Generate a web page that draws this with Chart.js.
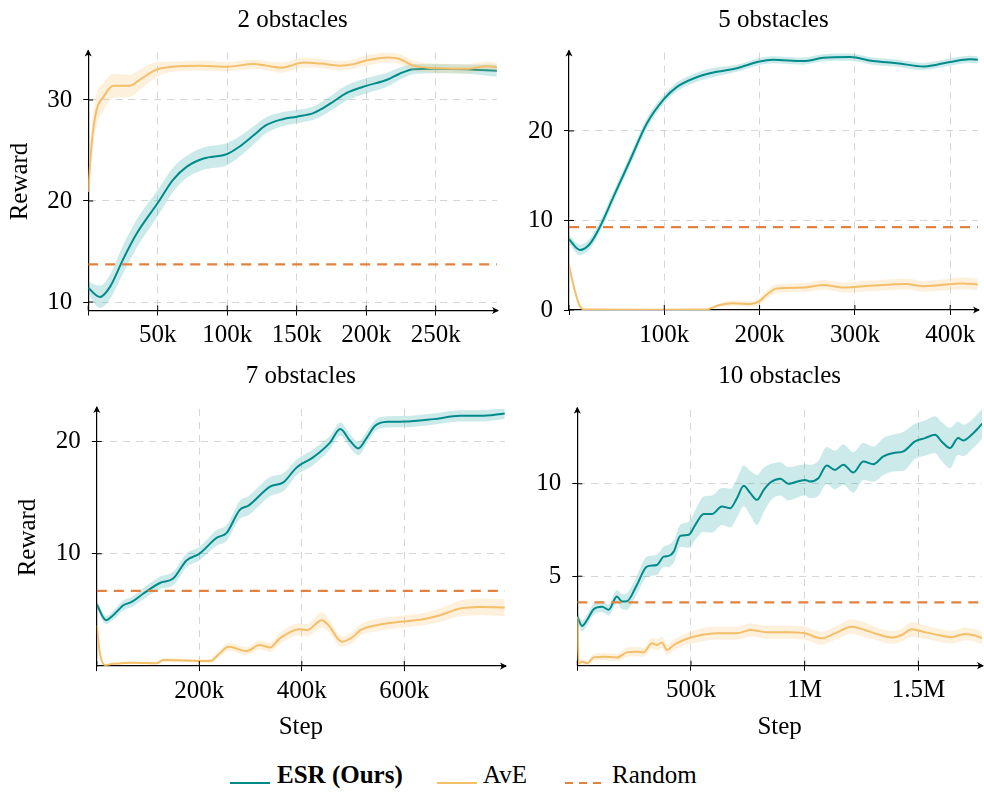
<!DOCTYPE html>
<html>
<head>
<meta charset="utf-8">
<script src="https://cdn.jsdelivr.net/npm/chart.js@4.4.0/dist/chart.umd.min.js"></script>
<style>
  body { margin: 0; background: #fff; width: 984px; height: 793px; position: relative; overflow: hidden;
         font-family: 'Liberation Serif', 'Times New Roman', serif; }
  canvas { position: absolute; }
  .lg { position: absolute; top: 760px; font-size: 25px; line-height: 30px; color: #000; white-space: nowrap; }
  .key { position: absolute; top: 778px; }
</style>
</head>
<body>
<canvas id="c1" width="505" height="360" style="left:0;top:0"></canvas>
<canvas id="c2" width="494" height="360" style="left:490px;top:0"></canvas>
<canvas id="c3" width="515" height="390" style="left:0;top:360px"></canvas>
<canvas id="c4" width="494" height="390" style="left:490px;top:360px"></canvas>

<svg class="key" style="left:230px" width="40" height="10"><line x1="0" y1="5" x2="40" y2="5" stroke="#008b8b" stroke-width="2.2"/></svg>
<span class="lg" style="left:277px;font-weight:bold">ESR (Ours)</span>
<svg class="key" style="left:437px" width="40" height="10"><line x1="0" y1="5" x2="40" y2="5" stroke="#f4bf68" stroke-width="2.2"/></svg>
<span class="lg" style="left:483px">AvE</span>
<svg class="key" style="left:565px" width="40" height="10"><line x1="0" y1="5" x2="40" y2="5" stroke="#e2823e" stroke-width="2.2" stroke-dasharray="8,6"/></svg>
<span class="lg" style="left:612px">Random</span>

<script>
const FONT = "'Liberation Serif', 'Times New Roman', serif";
const teal = '#008b8b', tealBand = 'rgba(0,150,150,0.2)';
const ave = '#f4bf68', aveBand = 'rgba(244,191,104,0.22)';
const rnd = '#e2823e';

// steps are in thousands

// 2 obstacles
const esr2Steps = [0, 8.5, 15.7, 25, 35, 50, 61, 71, 83, 100, 109, 119, 128, 140, 150, 162, 169, 176, 186, 200, 215, 224, 234, 248, 272, 294];
const esr2Mean = [11.4, 10.5, 11.5, 14.2, 16.8, 19.8, 22.1, 23.4, 24.2, 24.65, 25.4, 26.5, 27.5, 28.1, 28.35, 28.7, 29.2, 29.8, 30.7, 31.4, 32.0, 32.6, 33.05, 33.1, 33.05, 32.9];
const esr2Spread = [0.6, 1.1, 1.2, 1.4, 1.4, 1.3, 1.2, 1.1, 1.1, 1.1, 1.0, 0.9, 0.8, 0.7, 0.65, 0.65, 0.7, 0.75, 0.75, 0.75, 0.7, 0.6, 0.5, 0.45, 0.45, 0.6];
const ave2Steps = [0, 2.5, 6, 11, 18, 30, 37, 50, 61, 80, 100, 119, 128, 139, 155, 167, 181, 191, 200, 216, 224, 234, 244, 272, 287, 294];
const ave2Mean = [20.9, 25.7, 29.0, 30.3, 31.4, 31.4, 32.0, 33.05, 33.3, 33.4, 33.3, 33.55, 33.4, 33.2, 33.7, 33.6, 33.4, 33.55, 33.9, 34.2, 34.05, 33.4, 33.2, 33.1, 33.35, 33.25];
const ave2Spread = [0.3, 1.5, 1.6, 1.4, 1.2, 1.1, 1.0, 0.7, 0.5, 0.5, 0.45, 0.45, 0.45, 0.5, 0.5, 0.45, 0.45, 0.45, 0.5, 0.5, 0.5, 0.5, 0.45, 0.45, 0.45, 0.45];
const random2 = 13.73;
const xTicks2 = [0, 50, 100, 150, 200, 250];
const xLabels2 = ['', '50k', '100k', '150k', '200k', '250k'];
const yTicks2 = [10, 20, 30];
const yLabels2 = ['10', '20', '30'];

// 5 obstacles
const esr5Steps = [0, 11.5, 22, 32.5, 46.5, 64, 81.5, 100, 113, 134, 155, 176, 200, 214, 246, 267, 295, 319, 344, 372, 386, 400, 421, 429];
const esr5Mean = [7.9, 6.7, 7.4, 9.3, 12.6, 16.7, 20.8, 23.6, 24.9, 26.0, 26.6, 27.0, 27.76, 27.95, 27.8, 28.17, 28.25, 27.8, 27.57, 27.2, 27.4, 27.7, 28.0, 27.95];
const esr5Spread = [0.5, 0.6, 0.6, 0.6, 0.6, 0.6, 0.6, 0.5, 0.5, 0.5, 0.5, 0.4, 0.4, 0.4, 0.4, 0.4, 0.4, 0.4, 0.4, 0.4, 0.4, 0.4, 0.4, 0.4];
const ave5Steps = [0, 6, 11.5, 17, 80, 143, 158, 172, 190, 200, 207, 218, 246, 267, 288, 316, 354, 372, 414, 429];
const ave5Mean = [5.0, 2.2, 0.4, 0.05, 0.02, 0.05, 0.56, 0.75, 0.67, 1.0, 1.67, 2.4, 2.5, 2.8, 2.5, 2.7, 2.9, 2.65, 2.97, 2.85];
const ave5Spread = [0.05, 0.1, 0.1, 0.05, 0.02, 0.05, 0.2, 0.3, 0.3, 0.35, 0.5, 0.5, 0.5, 0.55, 0.55, 0.6, 0.6, 0.6, 0.65, 0.65];
const random5 = 9.25;
const xTicks5 = [0, 100, 200, 300, 400];
const xLabels5 = ['', '100k', '200k', '300k', '400k'];
const yTicks5 = [0, 10, 20];
const yLabels5 = ['0', '10', '20'];

// 7 obstacles
const esr7Steps = [0, 18, 32, 52, 68, 91, 123, 149, 175, 200, 234, 253, 279, 296, 338, 364, 390, 422, 455, 475, 494, 510, 527, 543, 569, 600, 657, 709, 748, 796];
const esr7Mean = [5.48, 4.09, 4.53, 5.42, 5.71, 6.46, 7.4, 7.79, 9.41, 10.0, 11.43, 11.84, 13.91, 14.29, 15.98, 16.36, 17.69, 18.58, 19.9, 21.1, 20.06, 19.38, 20.35, 21.4, 21.75, 21.77, 21.99, 22.28, 22.28, 22.5];
const esr7Spread = [0.4, 0.35, 0.4, 0.45, 0.45, 0.5, 0.55, 0.6, 0.6, 0.6, 0.7, 0.7, 0.8, 0.85, 0.85, 0.8, 0.7, 0.7, 0.6, 0.6, 0.6, 0.6, 0.55, 0.5, 0.5, 0.5, 0.5, 0.5, 0.5, 0.5];
const ave7Steps = [0, 6, 16, 32, 71, 117, 130, 175, 221, 240, 257, 292, 318, 338, 357, 396, 410, 439, 452, 478, 500, 514, 553, 592, 637, 670, 709, 748, 796];
const ave7Mean = [3.65, 1.14, 0.1, 0.2, 0.3, 0.25, 0.54, 0.49, 0.45, 1.14, 1.72, 1.34, 1.87, 1.66, 2.47, 3.27, 3.2, 4.09, 3.65, 2.17, 2.61, 3.2, 3.7, 3.94, 4.18, 4.53, 5.13, 5.27, 5.21];
const ave7Spread = [0.1, 0.1, 0.1, 0.1, 0.1, 0.1, 0.15, 0.15, 0.15, 0.3, 0.35, 0.35, 0.4, 0.4, 0.5, 0.55, 0.55, 0.7, 0.6, 0.45, 0.5, 0.5, 0.55, 0.55, 0.55, 0.6, 0.7, 0.75, 0.75];
const random7 = 6.69;
const xTicks7 = [0, 200, 400, 600];
const xLabels7 = ['', '200k', '400k', '600k'];
const yTicks7 = [10, 20];
const yLabels7 = ['10', '20'];

// 10 obstacles
const esr10Steps = [0, 21, 43, 72, 109, 138, 174, 197, 218, 262, 306, 350, 380, 402, 424, 453, 490, 519, 556, 592, 636, 673, 702, 732, 761, 790, 820, 849, 893, 928, 1001, 1023, 1060, 1097, 1133, 1170, 1214, 1258, 1302, 1346, 1390, 1434, 1485, 1529, 1573, 1602, 1639, 1675, 1697, 1734, 1763, 1780];
const esr10Mean = [2.81, 2.31, 2.63, 3.21, 3.35, 3.18, 3.9, 3.63, 3.64, 4.53, 5.52, 5.61, 6.06, 6.1, 6.33, 7.18, 7.24, 7.78, 8.36, 8.36, 8.77, 8.68, 9.22, 9.89, 9.49, 9.13, 9.67, 10.07, 10.27, 10.0, 10.21, 10.12, 10.3, 10.99, 10.75, 11.03, 10.61, 11.2, 11.06, 11.48, 11.66, 11.75, 12.29, 12.47, 12.65, 12.29, 11.93, 12.47, 12.34, 12.65, 13.01, 13.25];
const esr10Spread = [0.3, 0.3, 0.3, 0.3, 0.3, 0.3, 0.35, 0.4, 0.45, 0.5, 0.55, 0.55, 0.55, 0.6, 0.6, 0.6, 0.7, 0.8, 0.95, 1.0, 1.0, 1.05, 1.05, 1.1, 1.2, 1.35, 1.2, 1.0, 0.9, 0.9, 0.85, 0.9, 0.95, 1.0, 1.05, 1.1, 1.1, 1.0, 0.95, 1.0, 1.0, 1.05, 0.95, 0.95, 1.0, 1.05, 1.1, 0.9, 0.85, 0.8, 0.8, 0.8];
const ave10Steps = [0, 6, 21, 43, 72, 116, 174, 218, 255, 292, 328, 350, 372, 394, 424, 468, 526, 614, 702, 761, 834, 922, 1001, 1075, 1133, 1207, 1265, 1309, 1383, 1427, 1471, 1529, 1588, 1646, 1705, 1749, 1780];
const ave10Mean = [2.81, 0.29, 0.38, 0.29, 0.61, 0.65, 0.6, 0.88, 0.92, 0.88, 1.37, 1.28, 1.42, 1.01, 1.28, 1.55, 1.77, 1.91, 1.91, 2.09, 1.97, 1.97, 1.91, 1.64, 1.91, 2.27, 2.09, 1.91, 1.68, 1.82, 2.13, 1.97, 1.82, 1.70, 1.88, 1.79, 1.65];
const ave10Spread = [0.05, 0.1, 0.15, 0.15, 0.2, 0.2, 0.2, 0.25, 0.25, 0.25, 0.3, 0.3, 0.3, 0.3, 0.3, 0.3, 0.35, 0.35, 0.35, 0.35, 0.35, 0.35, 0.35, 0.35, 0.35, 0.4, 0.4, 0.35, 0.35, 0.35, 0.4, 0.35, 0.35, 0.35, 0.35, 0.35, 0.35];
const random10 = 3.59;
const xTicks10 = [0, 500, 1000, 1500];
const xLabels10 = ['', '500k', '1M', '1.5M'];
const yTicks10 = [5, 10];
const yLabels10 = ['5', '10'];

function pts(steps, vals, spread, sign) {
  return steps.map((s, i) => ({ x: s, y: vals[i] + sign * (spread ? spread[i] : 0) }));
}

function seriesSets(steps, mean, spread, color, fillColor, order) {
  const common = { pointRadius: 0, cubicInterpolationMode: 'monotone' };
  return [
    { ...common, data: pts(steps, mean, spread, 1), borderWidth: 0, fill: false, order: order + 1 },
    { ...common, data: pts(steps, mean, spread, -1), borderWidth: 0, fill: '-1', backgroundColor: fillColor, order: order + 1 },
    { ...common, data: pts(steps, mean, null, 0), borderColor: color, borderWidth: 2, fill: false, order: order }
  ];
}

function arrow(ctx, x, y, ang) {
  ctx.save();
  ctx.translate(x, y);
  ctx.rotate(ang);
  ctx.beginPath();
  ctx.moveTo(-5, 0); ctx.lineTo(0, 0); ctx.stroke();
  ctx.beginPath();
  ctx.moveTo(1, 0); ctx.lineTo(-6, -3.6); ctx.lineTo(-4, 0); ctx.lineTo(-6, 3.6);
  ctx.closePath(); ctx.fill();
  ctx.restore();
}

// subplot title, axis arrow heads and the inner half of the tick marks
const panelDeco = {
  id: 'panelDeco',
  afterDraw(chart, args, opts) {
    const { ctx, chartArea: a, scales } = chart;
    ctx.save();
    ctx.fillStyle = '#000';
    ctx.strokeStyle = '#000';
    ctx.lineWidth = 1.2;
    arrow(ctx, a.right + 1, a.bottom, 0);
    arrow(ctx, a.left, a.top - 2, -Math.PI / 2);
    ctx.lineWidth = 1;
    ctx.beginPath();
    scales.x.ticks.forEach(t => {
      const px = scales.x.getPixelForValue(t.value);
      ctx.moveTo(px, a.bottom); ctx.lineTo(px, a.bottom - 5);
    });
    scales.y.ticks.forEach(t => {
      const py = scales.y.getPixelForValue(t.value);
      ctx.moveTo(a.left, py); ctx.lineTo(a.left + 5, py);
    });
    ctx.stroke();
    ctx.font = '25px ' + FONT;
    ctx.textAlign = 'center';
    ctx.textBaseline = 'alphabetic';
    ctx.fillText(opts.text, (a.left + a.right) / 2, opts.y);
    ctx.restore();
  }
};

const tickFont = { family: FONT, size: 25 };
const gridColor = c => (c.tick && c.tick.value === 0) ? 'rgba(0,0,0,0)' : '#d6d6d6';

function makePanel(p) {
  const datasets = [
    ...seriesSets(p.esr[0], p.esr[1], p.esr[2], teal, tealBand, 4),
    ...seriesSets(p.ave[0], p.ave[1], p.ave[2], ave, aveBand, 2),
    { data: [{ x: 0, y: p.random }, { x: p.xMax, y: p.random }], borderColor: rnd, borderWidth: 2.2,
      borderDash: [10, 7], pointRadius: 0, fill: false, order: 1 }
  ];
  new Chart(document.getElementById(p.id), {
    type: 'line',
    data: { datasets },
    options: {
      responsive: false,
      animation: false,
      devicePixelRatio: 1,
      layout: { padding: { left: 0, top: p.padTop, right: p.padRight, bottom: 0 } },
      plugins: {
        legend: { display: false },
        tooltip: { enabled: false },
        panelDeco: { text: p.title, y: p.titleY }
      },
      scales: {
        x: {
          type: 'linear', min: 0, max: p.xMax,
          afterBuildTicks: s => { s.ticks = p.xTicks.map(v => ({ value: v })); },
          afterFit: s => { s.height = p.xAxisH; s.paddingLeft = 0; s.paddingRight = 0; },
          ticks: { autoSkip: false, maxRotation: 0, color: '#000', font: tickFont, padding: 5,
                   callback: (v, i) => p.xLabels[i] },
          grid: { color: gridColor, tickColor: '#000', tickLength: 5, lineWidth: 1 },
          border: { color: '#000', width: 1.2, dash: [7, 6] },
          title: { display: p.xTitle, text: 'Step', color: '#000', font: tickFont, padding: { bottom: 8 } }
        },
        y: {
          type: 'linear', min: p.yMin, max: p.yMax,
          afterBuildTicks: s => { s.ticks = p.yTicks.map(v => ({ value: v })); },
          afterFit: s => { s.width = p.yAxisW; s.paddingTop = 0; s.paddingBottom = 0; },
          ticks: { autoSkip: false, color: '#000', font: tickFont, padding: 11,
                   callback: (v, i) => p.yLabels[i] },
          grid: { color: gridColor, tickColor: '#000', tickLength: 5, lineWidth: 1 },
          border: { color: '#000', width: 1.2, dash: [7, 6] },
          title: { display: p.yTitle, text: 'Reward', color: '#000', font: tickFont, padding: { top: p.yTitlePad } }
        }
      }
    },
    plugins: [panelDeco]
  });
}

makePanel({ id: 'c1', title: '2 obstacles', titleY: 27,
  esr: [esr2Steps, esr2Mean, esr2Spread], ave: [ave2Steps, ave2Mean, ave2Spread], random: random2,
  xMax: 294.1, yMin: 9.16, yMax: 34.7, xTicks: xTicks2, xLabels: xLabels2, yTicks: yTicks2, yLabels: yLabels2,
  padTop: 52.5, padRight: 8, yAxisW: 88.2, xAxisH: 49.5, xTitle: false, yTitle: true, yTitlePad: 5 });

makePanel({ id: 'c2', title: '5 obstacles', titleY: 27,
  esr: [esr5Steps, esr5Mean, esr5Spread], ave: [ave5Steps, ave5Mean, ave5Spread], random: random5,
  xMax: 429.2, yMin: 0, yMax: 28.75, xTicks: xTicks5, xLabels: xLabels5, yTicks: yTicks5, yLabels: yLabels5,
  padTop: 52.6, padRight: 6, yAxisW: 79, xAxisH: 50, xTitle: false, yTitle: false, yTitlePad: 0 });

makePanel({ id: 'c3', title: '7 obstacles', titleY: 23,
  esr: [esr7Steps, esr7Mean, esr7Spread], ave: [ave7Steps, ave7Mean, ave7Spread], random: random7,
  xMax: 796.5, yMin: 0, yMax: 22.9, xTicks: xTicks7, xLabels: xLabels7, yTicks: yTicks7, yLabels: yLabels7,
  padTop: 48.9, padRight: 10, yAxisW: 96.8, xAxisH: 83.9, xTitle: true, yTitle: true, yTitlePad: 13 });

makePanel({ id: 'c4', title: '10 obstacles', titleY: 23,
  esr: [esr10Steps, esr10Mean, esr10Spread], ave: [ave10Steps, ave10Mean, ave10Spread], random: random10,
  xMax: 1779.7, yMin: 0.16, yMax: 14.0, xTicks: xTicks10, xLabels: xLabels10, yTicks: yTicks10, yLabels: yLabels10,
  padTop: 49.8, padRight: 2, yAxisW: 87.3, xAxisH: 84.3, xTitle: true, yTitle: false, yTitlePad: 0 });
</script>
</body>
</html>
